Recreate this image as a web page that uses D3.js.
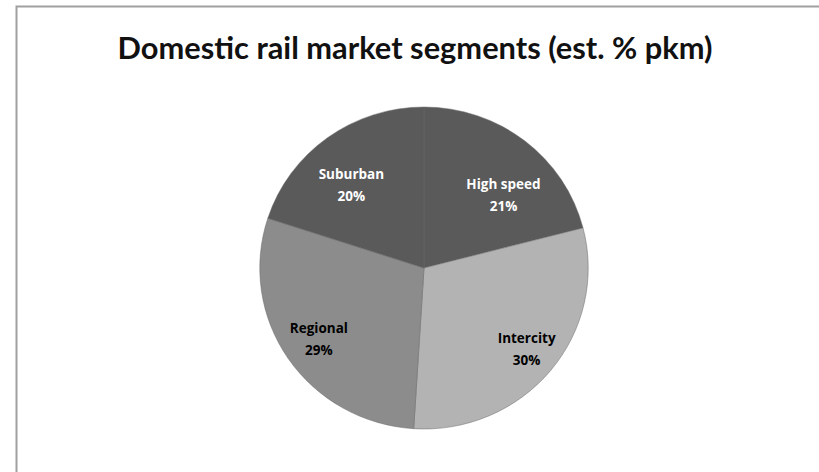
<!DOCTYPE html>
<html>
<head>
<meta charset="utf-8">
<script src="https://cdn.jsdelivr.net/npm/d3@7"></script>
<style>
  body { margin: 0; background: #fff; }
  #chart { width: 819px; height: 472px; }
  .title { font-family: Lato, "Open Sans", sans-serif; font-weight: bold; }
  .lbl { font-family: "Open Sans", Lato, sans-serif; font-weight: bold; font-size: 13.5px; }
</style>
</head>
<body>
<div id="chart"></div>
<script>
var segments = ["High speed", "Intercity", "Regional", "Suburban"];
var shares = [21, 30, 29, 20];

var colors = ["#5a5a5a", "#b3b3b3", "#8c8c8c", "#5a5a5a"],
    textColors = ["#fff", "#000", "#000", "#fff"],
    // label nudges from the r=115 centroid
    nudge = [[9, 18], [14, 8], [-10, 6], [-5, 10]];

var width = 819, height = 472,
    cx = 424, cy = 268, radius = 161;

var svg = d3.select("#chart").append("svg")
    .attr("width", width)
    .attr("height", height);

// chart frame (cropped on right and bottom)
svg.append("path")
    .attr("d", "M16.5,472 L16.5,6.5 L819,6.5")
    .attr("fill", "none")
    .attr("stroke", "#a0a0a0")
    .attr("stroke-width", 2);

svg.append("text")
    .attr("class", "title")
    .attr("x", 415)
    .attr("y", 59)
    .attr("text-anchor", "middle")
    .style("font-size", "30.8px")
    .attr("fill", "#111")
    .text("Domestic rail market segments (est. % pkm)");

var data = segments.map(function(d, i) { return {name: d, value: shares[i], i: i}; });

var pie = d3.pie()
    .sort(null)
    .value(function(d) { return d.value; });

var arc = d3.arc()
    .innerRadius(0)
    .outerRadius(radius);

var labelArc = d3.arc()
    .innerRadius(115)
    .outerRadius(115);

var arcs = pie(data);

var g = svg.append("g")
    .attr("transform", "translate(" + cx + "," + cy + ")");

g.append("g")
    .attr("transform", "scale(1.02,1)")
  .selectAll("path")
    .data(arcs)
  .enter().append("path")
    .attr("d", arc)
    .attr("fill", function(d) { return colors[d.data.i]; })
    .attr("stroke", "#6a6a6a")
    .attr("stroke-width", 0.5);

var lbl = g.selectAll(".lbl")
    .data(arcs)
  .enter().append("text")
    .attr("class", "lbl")
    .attr("text-anchor", "middle")
    .attr("fill", function(d) { return textColors[d.data.i]; })
    .attr("transform", function(d) {
      var c = labelArc.centroid(d), n = nudge[d.data.i];
      return "translate(" + (c[0] + n[0]) + "," + (c[1] + n[1]) + ")";
    });

lbl.append("tspan")
    .attr("x", 0)
    .attr("y", -6)
    .text(function(d) { return d.data.name; });

lbl.append("tspan")
    .attr("x", 0)
    .attr("y", 16)
    .text(function(d) { return d.data.value + "%"; });
</script>
</body>
</html>
